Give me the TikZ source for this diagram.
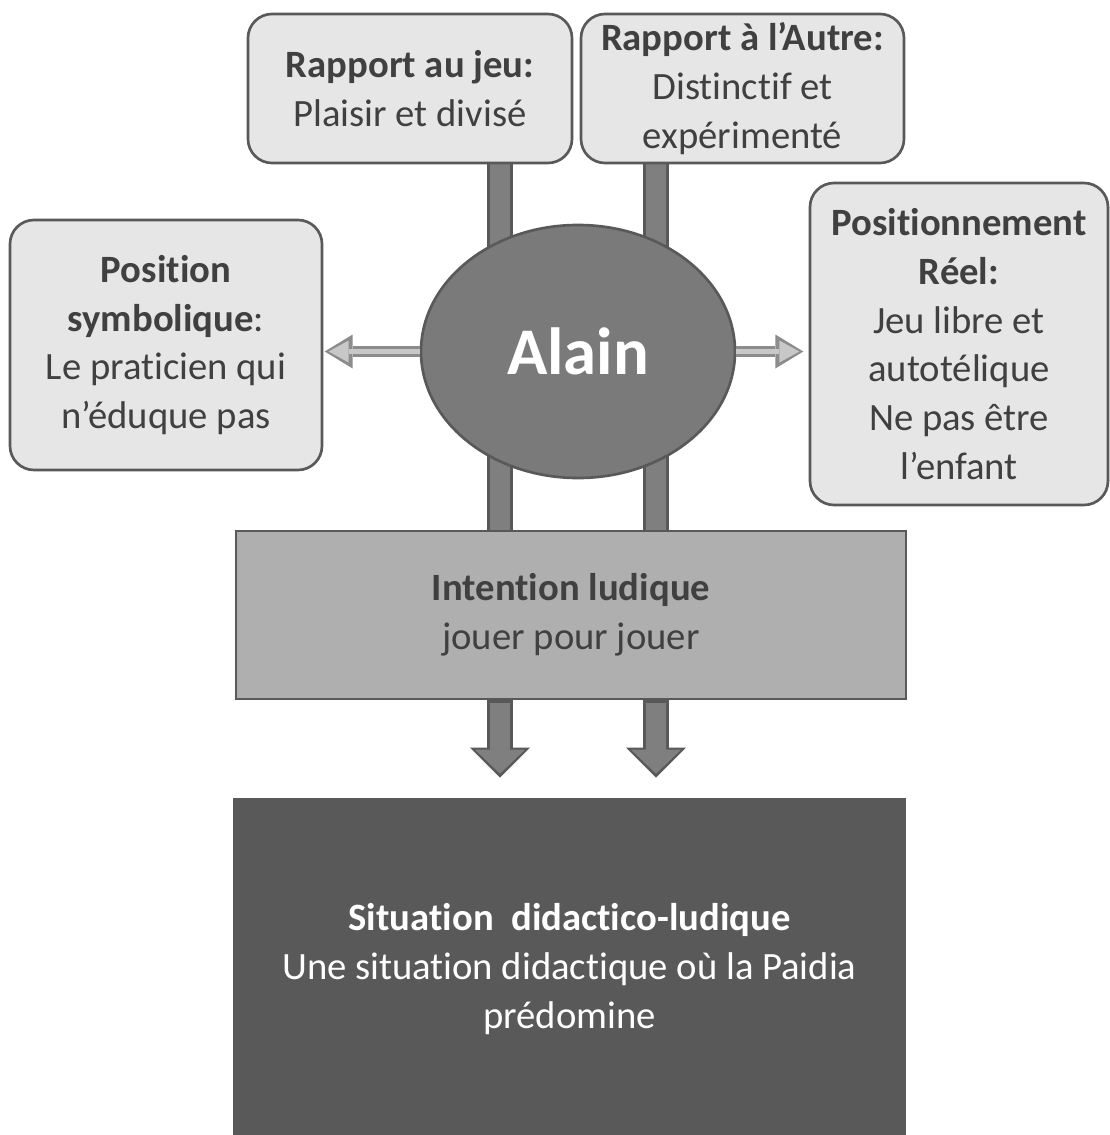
\documentclass[tikz,border=0pt]{standalone}
\usepackage{fontspec}
\setmainfont[Ligatures={TeX,NoCommon},RawFeature={-clig}]{Carlito}
\usetikzlibrary{arrows.meta,positioning,shapes.geometric}
\definecolor{Ink}{HTML}{404040}
\definecolor{Edge}{HTML}{595959}
\definecolor{Pale}{HTML}{E6E6E6}
\definecolor{Mid}{HTML}{7F7F7F}
\definecolor{Core}{HTML}{7A7A7A}
\definecolor{Soft}{HTML}{AFAFAF}
\definecolor{Deep}{HTML}{595959}
\definecolor{Rim}{HTML}{8C8C8C}
\definecolor{Light}{HTML}{C8C8C8}
\newdimen\pxu \pxu=0.75pt
\pgfdeclarelayer{back}
\pgfsetlayers{back,main}
\tikzset{
  card/.style={draw=Edge,line width=2pt,rounded corners=18pt,fill=Pale,align=center,inner sep=0pt,text=Ink,font=\fontsize{29}{36.5}\selectfont},
  band/.style={draw=Edge,line width=2pt,align=center,inner sep=0pt,font=\fontsize{29}{36.5}\selectfont},
  core/.style={ellipse,draw=Edge,line width=2pt,fill=Core,text=white,inner sep=0pt,font=\fontsize{50}{60}\selectfont\bfseries},
  barout/.style={line width=19.5pt,draw=Edge},
  barin/.style={line width=15pt,draw=Mid},
  downout/.style={barout,-{Triangle[length=22.5pt,width=45pt,line width=0pt]}},
  downin/.style={barin,-{Triangle[length=18pt,width=37.5pt,line width=0pt]}},
  sideout/.style={line width=8.25pt,draw=Rim,-{Triangle[length=21pt,width=25.5pt,line width=0pt]}},
  sidein/.style={line width=3.75pt,draw=Light,-{Triangle[length=15pt,width=16.5pt,line width=0pt]}},
}
\begin{document}
\begin{tikzpicture}[x=0.75pt,y=-0.75pt]
 \useasboundingbox (0,0) rectangle (1110,1135);
 % the four views round Alain
 \node[card,minimum width=324\pxu,minimum height=149\pxu] (jeu) at (410,88.5) {\textbf{Rapport au jeu:}\\Plaisir et divisé};
 \node[card,minimum width=323\pxu,minimum height=149\pxu] (autre) at (742.5,88.5) {\textbf{Rapport à l’Autre:}\\Distinctif et\\expérimenté};
 \node[card,minimum width=312\pxu,minimum height=250\pxu] (symb) at (166,345) {\textbf{Position}\\\textbf{symbolique}:\\Le praticien qui\\n’éduque pas};
 \node[card,minimum width=298\pxu,minimum height=322\pxu] (reel) at (959,344) {\textbf{Positionnement}\\\textbf{Réel:}\\Jeu libre et\\autotélique\\Ne pas être\\l’enfant};
 \node[core,minimum width=314\pxu,minimum height=253\pxu] (alain) at (578,351.5) {Alain};
 \node[band,fill=Soft,text=Ink,minimum width=670\pxu,minimum height=168\pxu] (intent) at (571,615) {\textbf{Intention ludique}\\jouer pour jouer};
 \node[band,draw=Deep,fill=Deep,text=white,minimum width=671\pxu,minimum height=340\pxu] (sit) at (569.5,969) {\textbf{Situation\ \ didactico-ludique}\\Une situation didactique où la Paidia\\prédomine};
 \path (500,0) coordinate (lx) (656,0) coordinate (rx);
 % bars behind the nodes
 \begin{pgfonlayer}{back}
  \draw[barout] (jeu.south -| lx) -- (intent.north -| lx);
  \draw[barin] (jeu.south -| lx) -- (intent.north -| lx);
  \draw[barout] (autre.south -| rx) -- (intent.north -| rx);
  \draw[barin] (autre.south -| rx) -- (intent.north -| rx);
 \end{pgfonlayer}
 \draw[downout,shorten >=15pt] (intent.south -| lx) -- (sit.north -| lx);
 \draw[downin,shorten >=18pt] ([yshift=-2pt]intent.south -| lx) -- (sit.north -| lx);
 \draw[downout,shorten >=15pt] (intent.south -| rx) -- (sit.north -| rx);
 \draw[downin,shorten >=18pt] ([yshift=-2pt]intent.south -| rx) -- (sit.north -| rx);
 % side arrows
 \draw[sideout] (alain.west) -- ([xshift=1pt]symb.east |- alain.west);
 \draw[sidein,shorten >=3pt] (alain.west) -- ([xshift=1pt]symb.east |- alain.west);
 \draw[sideout] (alain.east) -- ([xshift=-4pt]reel.west |- alain.east);
 \draw[sidein,shorten >=3pt] (alain.east) -- ([xshift=-4pt]reel.west |- alain.east);
\end{tikzpicture}
\end{document}
